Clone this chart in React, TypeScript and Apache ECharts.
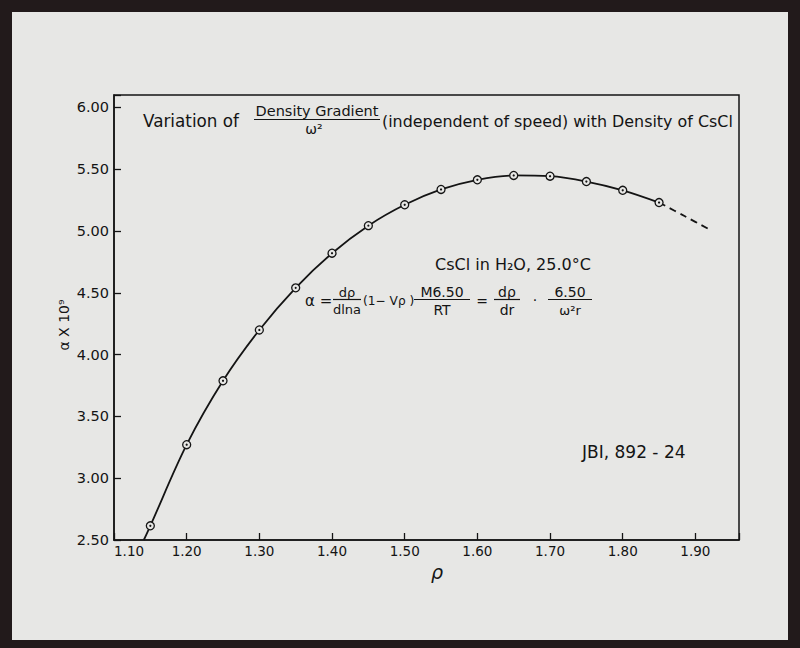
import React, { useEffect, useRef } from "react";
import * as echarts from "echarts";

// Data
const rhoValues = [1.15, 1.2, 1.25, 1.3, 1.35, 1.4, 1.45, 1.5, 1.55, 1.6, 1.65, 1.7, 1.75, 1.8, 1.85];
const alphaValues = [2.615, 3.271, 3.788, 4.199, 4.54, 4.82, 5.043, 5.212, 5.336, 5.414, 5.449, 5.443, 5.4, 5.329, 5.23];
// solid curve starts at the bottom axis before the first point
const curveStart = [1.141, 2.5];
// dashed extrapolation beyond the last measured point
const dashedRho = [1.85, 1.885, 1.923];
const dashedAlpha = [5.23, 5.121, 5.0];

const xTicks = { min: 1.1, max: 1.96, interval: 0.1 };
const yTicks = { min: 2.5, max: 6.1, interval: 0.5 };

const INK = "#141414";
const PAPER = "#e7e7e5";
const FONT = "DejaVu Sans";

export default function App() {
  const ref = useRef<HTMLDivElement>(null);
  useEffect(() => {
    if (!ref.current) return;
    const chart = echarts.init(ref.current, undefined, { renderer: "svg" });
    const points = rhoValues.map((r, i) => [r, alphaValues[i]]);
    const curve = [curveStart, ...points];
    const dashed = dashedRho.map((r, i) => [r, dashedAlpha[i]]);

    const txt = (text: string, x: number, y: number, size: number, align = "left", extra: any = {}, el: any = {}) => ({
      type: "text",
      x,
      y,
      z: 50,
      ...el,
      style: {
        text,
        fontSize: size,
        fontFamily: FONT,
        fill: INK,
        textAlign: align,
        textVerticalAlign: "middle",
        ...extra,
      },
    });
    const hline = (x1: number, x2: number, y: number) => ({
      type: "line",
      z: 50,
      shape: { x1, y1: y, x2, y2: y },
      style: { stroke: INK, lineWidth: 1.2 },
    });

    const isOnGrid = (v: number, step: number) => Math.abs(v / step - Math.round(v / step)) < 1e-6;

    chart.setOption({
      animation: false,
      backgroundColor: "#221a1b",
      grid: {
        left: 114,
        right: 61,
        top: 95,
        bottom: 108,
        show: true,
        borderColor: INK,
        borderWidth: 1.5,
        backgroundColor: "transparent",
      },
      xAxis: {
        type: "value",
        min: xTicks.min,
        max: xTicks.max,
        interval: xTicks.interval,
        axisLine: { show: true, lineStyle: { color: INK, width: 1.5 } },
        axisTick: { show: true, inside: true, length: 7, lineStyle: { color: INK, width: 1.3 } },
        splitLine: { show: false },
        axisLabel: {
          fontFamily: FONT,
          fontSize: 13.5,
          color: INK,
          margin: 4,
          alignMinLabel: "left",
          formatter: (v: number) => (isOnGrid(v, 0.1) ? v.toFixed(2) : ""),
        },
      },
      yAxis: {
        type: "value",
        min: yTicks.min,
        max: yTicks.max,
        interval: yTicks.interval,
        axisLine: { show: true, lineStyle: { color: INK, width: 1.5 } },
        axisTick: { show: true, inside: true, length: 7, lineStyle: { color: INK, width: 1.3 } },
        splitLine: { show: false },
        axisLabel: {
          fontFamily: FONT,
          fontSize: 14.5,
          color: INK,
          margin: 5,
          padding: [0, 0, 3, 0],
          formatter: (v: number) => (isOnGrid(v, 0.5) ? v.toFixed(2) : ""),
        },
      },
      graphic: [
        {
          type: "rect",
          z: -100,
          silent: true,
          shape: { x: 12, y: 12, width: 776, height: 628 },
          style: { fill: PAPER },
        },
        // axis names
        txt("ρ", 437, 572, 19, "center", { fontStyle: "italic" }),
        txt("α X 10⁹", 64, 325, 14, "center", {}, { rotation: Math.PI / 2 }),
        // title
        txt("Variation of", 143, 121, 16.8),
        txt("Density Gradient", 317, 111, 14.5, "center"),
        hline(254, 380, 119.5),
        txt("ω²", 314, 129, 14, "center"),
        txt("(independent of speed) with Density of CsCl", 382, 121, 15.9),
        // annotation
        txt("CsCl in H₂O, 25.0°C", 435, 264, 16),
        txt("α =", 305, 301, 15),
        txt("dρ", 347, 292, 13, "center"),
        hline(333, 361, 299.5),
        txt("dlna", 347, 309, 13, "center"),
        txt("(1− Vρ )", 363, 301, 12.2),
        txt("M6.50", 442, 292, 14, "center"),
        hline(414, 470, 299.5),
        txt("RT", 442, 310, 14, "center"),
        txt("=", 482, 301, 14, "center"),
        txt("dρ", 507, 292, 14, "center"),
        hline(494, 520, 299.5),
        txt("dr", 507, 310, 14, "center"),
        txt("·", 535, 300, 14, "center"),
        txt("6.50", 570, 292, 14, "center"),
        hline(548, 592, 299.5),
        txt("ω²r", 570, 310, 13, "center"),
        txt("JBI, 892 - 24", 582, 452, 17),
      ],
      series: [
        {
          type: "line",
          data: curve,
          smooth: 0.35,
          showSymbol: false,
          lineStyle: { color: INK, width: 1.8 },
          z: 3,
          silent: true,
        },
        {
          type: "line",
          data: dashed,
          smooth: 0.35,
          showSymbol: false,
          lineStyle: { color: INK, width: 1.8, type: [7, 5] },
          z: 3,
          silent: true,
        },
        {
          type: "scatter",
          data: points,
          symbol: "circle",
          symbolSize: 8,
          itemStyle: { color: PAPER, borderColor: INK, borderWidth: 1.3, opacity: 1 },
          z: 4,
          silent: true,
        },
        {
          type: "scatter",
          data: points,
          symbol: "circle",
          symbolSize: 2.2,
          itemStyle: { color: INK, opacity: 1 },
          z: 5,
          silent: true,
        },
      ],
    });
    return () => chart.dispose();
  }, []);
  return (
    <div
      ref={ref}
      style={{ position: "fixed", left: 0, top: 0, width: 800, height: 648 }}
    />
  );
}
